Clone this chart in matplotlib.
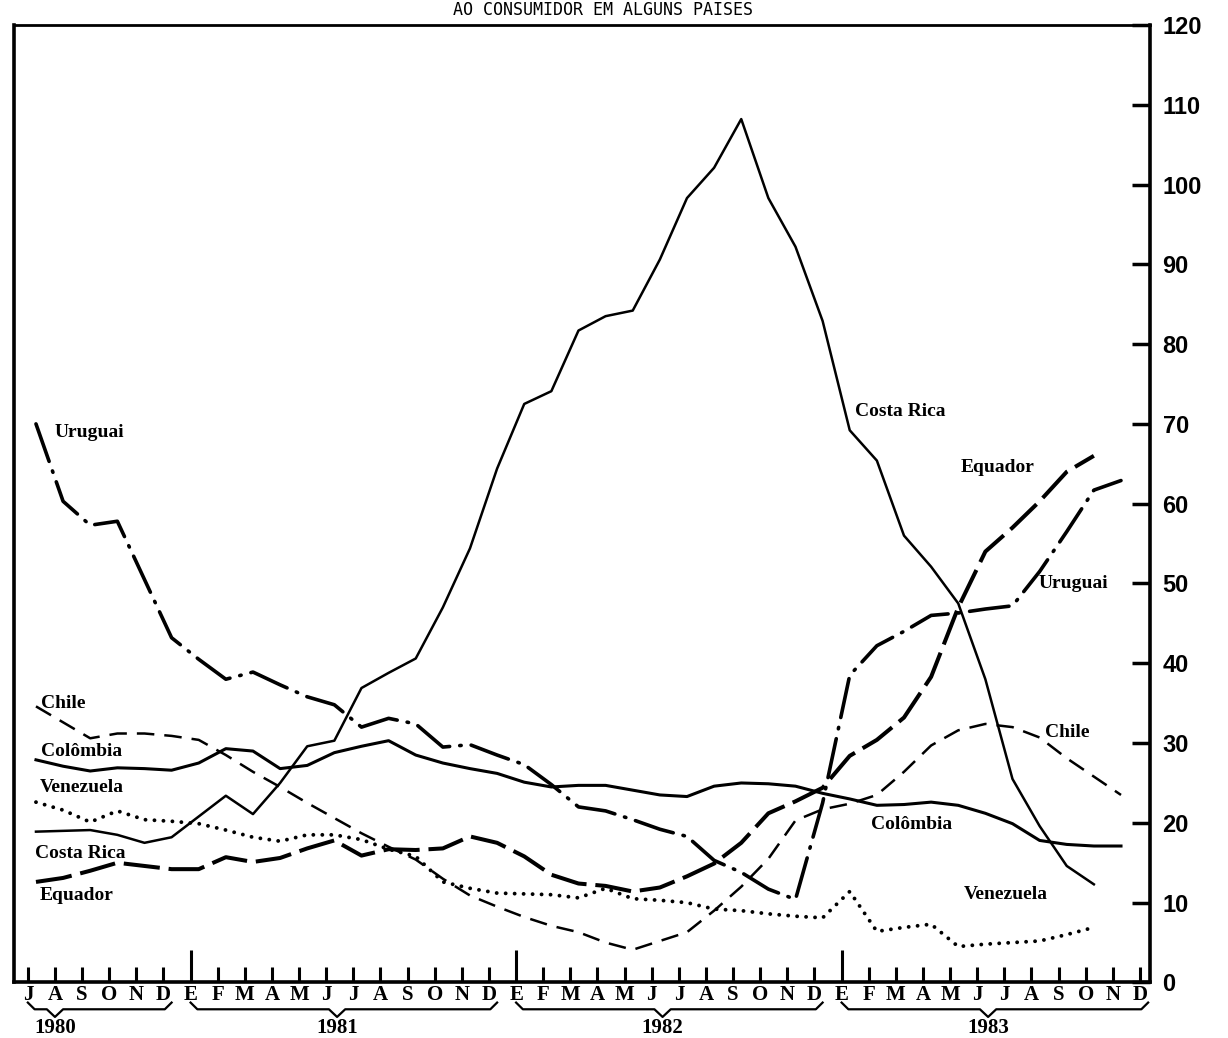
import numpy as np
import matplotlib
matplotlib.use("Agg")
import matplotlib.pyplot as plt
from matplotlib.transforms import blended_transform_factory

# meses de jul/1980 a dez/1983
meses = ["J", "A", "S", "O", "N", "D",
         "E", "F", "M", "A", "M", "J", "J", "A", "S", "O", "N", "D",
         "E", "F", "M", "A", "M", "J", "J", "A", "S", "O", "N", "D",
         "E", "F", "M", "A", "M", "J", "J", "A", "S", "O", "N", "D"]
anos = ["1980", "1981", "1982", "1983"]
inicio_ano = [0, 6, 18, 30]
fim_ano = [5, 17, 29, 41]
ponta_ano = [0.7, 11.1, 23.1, 35.1]

costa_rica = [18.9, 19.0, 19.1, 18.5, 17.5, 18.2, 20.8, 23.4, 21.1, 25.0,
              29.6, 30.3, 36.9, 38.8, 40.6, 47.0, 54.4, 64.4, 72.5, 74.1,
              81.7, 83.5, 84.2, 90.6, 98.3, 102.1, 108.2, 98.3, 92.2, 82.9,
              69.2, 65.4, 56.0, 52.1, 47.5, 38.0, 25.5, 19.6, 14.6, 12.3]
uruguai = [70.0, 60.3, 57.3, 57.8, 50.5, 43.2, 40.5, 38.0, 38.9, 37.3,
           35.8, 34.8, 32.0, 33.1, 32.4, 29.5, 29.8, 28.5, 27.3, 24.8,
           22.0, 21.5, 20.4, 19.2, 18.3, 15.3, 13.8, 11.7, 10.4, 22.5,
           38.5, 42.2, 44.0, 46.0, 46.3, 46.8, 47.2, 51.5, 56.5, 61.7, 62.9]
equador = [12.6, 13.1, 14.0, 15.0, 14.6, 14.2, 14.2, 15.7, 15.1, 15.6,
           16.8, 17.8, 15.9, 16.7, 16.6, 16.8, 18.3, 17.5, 15.8, 13.5,
           12.4, 12.1, 11.4, 11.9, 13.3, 14.9, 17.5, 21.2, 22.7, 24.4,
           28.4, 30.4, 33.2, 38.3, 47.0, 54.0, 57.0, 60.3, 64.0, 66.0]
chile = [34.6, 32.6, 30.6, 31.2, 31.2, 30.9, 30.4, 28.5, 26.4, 24.5,
         22.5, 20.6, 18.7, 17.0, 15.4, 13.0, 10.9, 9.5, 8.2, 7.1,
         6.3, 5.0, 4.1, 5.2, 6.3, 9.0, 12.0, 15.5, 20.3, 21.7,
         22.4, 23.5, 26.4, 29.7, 31.6, 32.4, 32.0, 30.7, 28.1, 25.8, 23.5]
colombia = [27.9, 27.1, 26.5, 26.9, 26.8, 26.6, 27.5, 29.3, 29.0, 26.8,
            27.2, 28.8, 29.6, 30.3, 28.5, 27.5, 26.8, 26.2, 25.1, 24.5,
            24.7, 24.7, 24.1, 23.5, 23.3, 24.6, 25.0, 24.9, 24.6, 23.7,
            23.0, 22.2, 22.3, 22.6, 22.2, 21.2, 19.9, 17.8, 17.3, 17.1, 17.1]
venezuela = [22.6, 21.6, 20.1, 21.5, 20.4, 20.2, 19.9, 19.1, 18.2, 17.7,
             18.5, 18.5, 17.9, 16.7, 15.8, 12.6, 11.8, 11.2, 11.1, 11.0,
             10.6, 11.8, 10.5, 10.3, 10.0, 9.2, 9.0, 8.6, 8.3, 8.1,
             11.4, 6.4, 6.9, 7.3, 4.5, 4.8, 5.0, 5.2, 6.0, 6.9]

fig = plt.figure(figsize=(12.28, 10.38), dpi=100)
ax = fig.add_axes([0.0114, 0.0535, 0.9251, 0.9225])

serif = "Liberation Serif"

ax.plot(np.arange(len(costa_rica)), costa_rica, color="k", lw=1.8)
ax.plot(np.arange(len(colombia)), colombia, color="k", lw=2.2)
ax.plot(np.arange(len(uruguai)), uruguai, color="k", lw=2.6,
        linestyle=(0, (11, 2.8, 0.4, 2.8)), dash_capstyle="round")
ax.plot(np.arange(len(equador)), equador, color="k", lw=2.9,
        linestyle=(0, (9, 2.2)))
ax.plot(np.arange(len(chile)), chile, color="k", lw=1.8,
        linestyle=(0, (7, 4)))
ax.plot(np.arange(len(venezuela)), venezuela, color="k", lw=2.8,
        linestyle=(0, (0.01, 2.3)), dash_capstyle="round")

# rotulos das series
rot = dict(fontsize=14, family=serif, fontweight="bold", va="center")
ax.text(0.7, 68.9, "Uruguai", **rot)
ax.text(0.2, 35.0, "Chile", **rot)
ax.text(0.2, 28.9, "Colômbia", **rot)
ax.text(0.15, 24.4, "Venezuela", **rot)
ax.text(-0.05, 16.2, "Costa Rica", **rot)
ax.text(0.15, 10.9, "Equador", **rot)
ax.text(30.2, 71.6, "Costa Rica", **rot)
ax.text(34.1, 64.5, "Equador", **rot)
ax.text(36.95, 50.0, "Uruguai", **rot)
ax.text(37.2, 31.3, "Chile", **rot)
ax.text(30.8, 19.8, "Colômbia", **rot)
ax.text(34.2, 11.0, "Venezuela", **rot)

ax.set_xlim(-0.81, 41.07)
ax.set_ylim(0, 119.8)

# eixo y a direita
ax.yaxis.tick_right()
ax.set_yticks(np.arange(0, 121, 10))
ax.tick_params(axis="y", direction="in", length=13, width=2.5, pad=9,
               labelsize=17)
for t in ax.get_yticklabels():
    t.set_fontfamily("Liberation Sans")
    t.set_fontweight("bold")

# meses
pos = np.arange(len(meses)) - 0.3
ax.set_xticks(pos)
ax.set_xticklabels(meses)
ax.tick_params(axis="x", direction="in", length=11, width=2.2, pad=2,
               labelsize=15)
for t in ax.get_xticklabels():
    t.set_fontfamily(serif)
    t.set_fontweight("bold")
for i in inicio_ano[1:]:
    ax.xaxis.get_major_ticks()[i].tick1line.set_markersize(23)

for s in ["left", "bottom", "right"]:
    ax.spines[s].set_linewidth(2.6)
ax.spines["top"].set_linewidth(2.0)

# chaves dos anos
tr = blended_transform_factory(ax.transData, ax.transAxes)
for a, i0, i1, xm in zip(anos, inicio_ano, fim_ano, ponta_ano):
    x0, x1 = i0 - 0.3, i1
    xs = [x0, x0 + 0.25, xm - 0.3, xm, xm + 0.3, x1 - 0.25, x1]
    ys = [-0.021, -0.028, -0.028, -0.036, -0.028, -0.028, -0.021]
    ax.plot(xs, ys, transform=tr, color="k", lw=1.6, clip_on=False)
    ax.text(xm, -0.048, a, transform=tr, ha="center", va="center",
            fontsize=15, family=serif, fontweight="bold")

fig.text(0.491, 0.9855, "AO CONSUMIDOR EM ALGUNS PAISES", ha="center",
         va="baseline", fontsize=12, family="DejaVu Sans Mono")

fig.savefig("out.png", dpi=100, facecolor="white")
